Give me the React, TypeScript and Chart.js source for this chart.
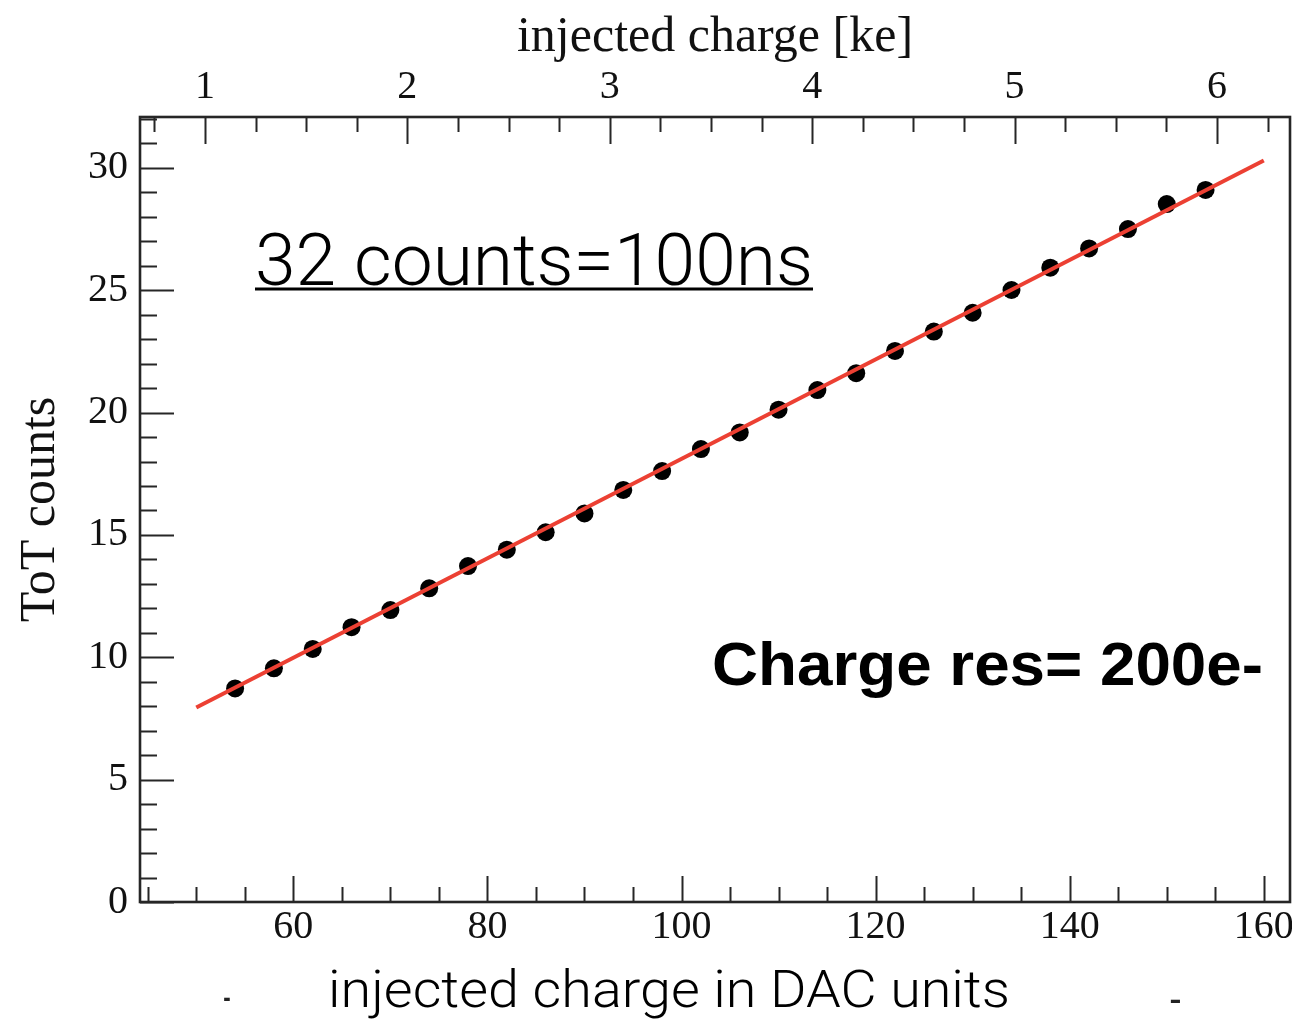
import { useEffect, useRef } from "react";
import { Chart, registerables } from "chart.js";

Chart.register(...registerables);

// Measured ToT response vs injected DAC charge
const DAC_VALUES = [54, 58, 62, 66, 70, 74, 78, 82, 86, 90, 94, 98, 102, 106, 110, 114, 118, 122, 126, 130, 134, 138, 142, 146, 150, 154];
const TOT_COUNTS = [8.73, 9.55, 10.34, 11.23, 11.93, 12.82, 13.73, 14.4, 15.11, 15.88, 16.84, 17.61, 18.51, 19.19, 20.12, 20.92, 21.61, 22.52, 23.31, 24.08, 25.01, 25.92, 26.71, 27.5, 28.52, 29.1];

// Linear fit endpoints
const FIT_DAC = [50, 160];
const FIT_TOT = [7.95, 30.3];

// Axis ranges and labelled ticks
const DAC_RANGE = [44.2, 162.7];
const KE_RANGE = [0.679, 6.361];
const TOT_RANGE = [0, 32.08];
const DAC_TICKS = [60, 80, 100, 120, 140, 160];
const KE_TICKS = [1, 2, 3, 4, 5, 6];
const TOT_TICKS = [0, 5, 10, 15, 20, 25, 30];

// Minor tick spacing for each axis
const DAC_MINOR_STEP = 5;
const KE_MINOR_STEP = 0.25;
const TOT_MINOR_STEP = 1;

const SERIF = "'Liberation Serif', 'Times New Roman', serif";
const FRAME_COLOR = "#262626";

// canvas is a little wider than the page so the plot frame reaches x = 1290
const CANVAS_W = 1299;
const CANVAS_H = 1020;

function fillFitted(ctx: CanvasRenderingContext2D, text: string, x: number, y: number, width: number) {
  const w = ctx.measureText(text).width;
  ctx.save();
  ctx.translate(x, y);
  ctx.scale(width / w, 1);
  ctx.textAlign = "left";
  ctx.textBaseline = "alphabetic";
  ctx.fillText(text, 0, 0);
  ctx.restore();
}

const frameAndTicks = {
  id: "frameAndTicks",
  beforeDatasetsDraw(chart: any) {
    const { ctx, chartArea: a, scales } = chart;
    const xs = scales.x;
    const ks = scales.x2;
    const ys = scales.y;
    ctx.save();
    ctx.strokeStyle = FRAME_COLOR;
    ctx.lineCap = "butt";

    // inward tick marks
    ctx.lineWidth = 2;
    ctx.beginPath();
    for (let v = Math.ceil(DAC_RANGE[0] / DAC_MINOR_STEP) * DAC_MINOR_STEP; v <= DAC_RANGE[1]; v += DAC_MINOR_STEP) {
      const px = Math.round(xs.getPixelForValue(v)) + 0.5;
      const len = DAC_TICKS.includes(v) ? 26 : 15;
      ctx.moveTo(px, a.bottom);
      ctx.lineTo(px, a.bottom - len);
    }
    for (let v = Math.ceil(KE_RANGE[0] / KE_MINOR_STEP) * KE_MINOR_STEP; v <= KE_RANGE[1]; v += KE_MINOR_STEP) {
      const px = Math.round(ks.getPixelForValue(v)) + 0.5;
      const len = KE_TICKS.includes(v) ? 27 : 15;
      ctx.moveTo(px, a.top);
      ctx.lineTo(px, a.top + len);
    }
    for (let v = TOT_RANGE[0]; v <= TOT_RANGE[1]; v += TOT_MINOR_STEP) {
      const py = Math.round(ys.getPixelForValue(v)) + 0.5;
      const len = TOT_TICKS.includes(v) ? 34 : 17;
      ctx.moveTo(a.left, py);
      ctx.lineTo(a.left + len, py);
    }
    ctx.stroke();

    // plot frame
    ctx.lineWidth = 2.6;
    ctx.strokeRect(a.left, a.top, a.right - a.left, a.bottom - a.top);
    ctx.restore();
  },
  afterDraw(chart: any) {
    const { ctx } = chart;
    ctx.save();
    ctx.fillStyle = "#000";

    ctx.font = "300 73px Roboto, 'Liberation Sans', sans-serif";
    fillFitted(ctx, "32 counts=100ns", 255, 285, 558);
    ctx.fillRect(255, 287.5, 558, 3);

    ctx.font = "bold 62px 'Liberation Sans', Arial, sans-serif";
    fillFitted(ctx, "Charge res= 200e-", 712, 685, 551);

    ctx.font = "300 52px Roboto, 'Liberation Sans', sans-serif";
    fillFitted(ctx, "injected charge in DAC units", 328, 1007, 682);

    ctx.fillStyle = "#222";
    ctx.font = "bold 30px Roboto, sans-serif";
    fillFitted(ctx, "-", 223, 1008, 8);
    fillFitted(ctx, "-", 1169, 1010, 13);
    ctx.restore();
  },
};

export default function App() {
  const canvasRef = useRef<HTMLCanvasElement | null>(null);

  useEffect(() => {
    const canvas = canvasRef.current;
    if (!canvas) return;

    const points = DAC_VALUES.map((x, i) => ({ x, y: TOT_COUNTS[i] }));
    const fit = FIT_DAC.map((x, i) => ({ x, y: FIT_TOT[i] }));
    const tickFont = { family: SERIF, size: 40 };
    const noGrid = { display: false, drawTicks: false, tickLength: 0 };

    const chart = new Chart(canvas, {
      type: "scatter",
      data: {
        datasets: [
          {
            label: "fit",
            data: fit,
            showLine: true,
            borderColor: "#ec4033",
            borderWidth: 4,
            pointRadius: 0,
            order: 0,
          },
          {
            label: "ToT",
            data: points,
            backgroundColor: "#000",
            borderWidth: 0,
            pointRadius: 9,
            order: 1,
          },
        ],
      },
      options: {
        animation: false,
        responsive: false,
        maintainAspectRatio: false,
        layout: { padding: { left: 0, right: 2, top: 0, bottom: 0 } },
        plugins: {
          legend: { display: false },
          tooltip: { enabled: false },
        },
        scales: {
          x: {
            type: "linear",
            position: "bottom",
            min: DAC_RANGE[0],
            max: DAC_RANGE[1],
            grid: noGrid,
            border: { display: false },
            afterBuildTicks: (s: any) => {
              s.ticks = DAC_TICKS.map((value) => ({ value }));
            },
            ticks: { font: tickFont, color: "#111", padding: 1, maxRotation: 0, autoSkip: false },
            afterFit: (s: any) => {
              s.height = 118;
              s.paddingLeft = 0;
              s.paddingRight = 0;
            },
          },
          x2: {
            type: "linear",
            position: "top",
            min: KE_RANGE[0],
            max: KE_RANGE[1],
            grid: noGrid,
            border: { display: false },
            afterBuildTicks: (s: any) => {
              s.ticks = KE_TICKS.map((value) => ({ value }));
            },
            ticks: { font: tickFont, color: "#111", padding: 6, maxRotation: 0, autoSkip: false },
            title: {
              display: true,
              text: "injected charge [ke]",
              font: { family: SERIF, size: 50 },
              color: "#111",
              padding: { top: 8, bottom: 0 },
            },
            afterFit: (s: any) => {
              s.height = 117;
              s.paddingLeft = 0;
              s.paddingRight = 0;
            },
          },
          y: {
            type: "linear",
            position: "left",
            min: TOT_RANGE[0],
            max: TOT_RANGE[1],
            grid: noGrid,
            border: { display: false },
            afterBuildTicks: (s: any) => {
              s.ticks = TOT_TICKS.map((value) => ({ value }));
            },
            ticks: { font: tickFont, color: "#111", padding: 12, autoSkip: false },
            title: {
              display: true,
              text: "ToT counts",
              font: { family: SERIF, size: 50 },
              color: "#111",
              padding: { top: 11, bottom: 0 },
            },
            afterFit: (s: any) => {
              s.width = 140;
              s.paddingTop = 0;
              s.paddingBottom = 0;
            },
          },
        },
      },
      plugins: [frameAndTicks],
    });

    return () => chart.destroy();
  }, []);

  return (
    <div style={{ position: "fixed", left: 0, top: 0, width: 1292, height: 1020, overflow: "hidden", background: "#fff" }}>
      <canvas
        ref={canvasRef}
        width={CANVAS_W}
        height={CANVAS_H}
        style={{ display: "block", width: CANVAS_W, height: CANVAS_H }}
      />
    </div>
  );
}
